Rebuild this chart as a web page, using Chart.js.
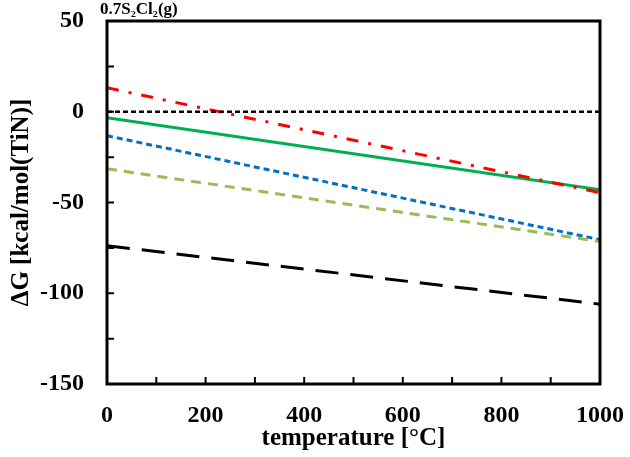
<!DOCTYPE html>
<html>
<head>
<meta charset="utf-8">
<script src="https://cdn.jsdelivr.net/npm/chart.js@4"></script>
<style>
  html, body { margin: 0; padding: 0; background: #fff; }
  #wrap { width: 630px; height: 457px; }
</style>
</head>
<body>
<div id="wrap"><canvas id="dg-chart"></canvas></div>
<script>
const temps = [0, 1000];
const redLine = [13.2, -44.6];
const greenLine = [-3.3, -43];
const blueLine = [-13.2, -70.5];
const lightGreenLine = [-31.4, -71.5];
const blackLine = [-73.8, -106];
const zeroLine = [0, 0];
const yTicks = [50, 0, -50, -100, -150];
const xTicks = [0, 200, 400, 600, 800, 1000];

const serif = "'Liberation Serif', 'Times New Roman', serif";

const pts = arr => arr.map((v, i) => ({ x: temps[i], y: v }));

//축 안쪽 눈금 + 테두리
const frame = {
  id: "frame",
  afterDraw(chart) {
    const { ctx, chartArea: a, scales } = chart;
    ctx.save();
    ctx.strokeStyle = "#000";
    ctx.lineWidth = 3;
    ctx.strokeRect(a.left, a.top, a.right - a.left, a.bottom - a.top);
    ctx.lineWidth = 2;
    ctx.beginPath();
    for (let v = 100; v < 1000; v += 100) {
      const px = scales.x.getPixelForValue(v);
      ctx.moveTo(px, a.bottom);
      ctx.lineTo(px, a.bottom - 7);
    }
    for (let v = -125; v < 50; v += 25) {
      const py = scales.y.getPixelForValue(v);
      ctx.moveTo(a.left, py);
      ctx.lineTo(a.left + 7, py);
    }
    ctx.stroke();
    ctx.fillStyle = "#000";
    ctx.font = "bold 17px " + serif;
    ctx.textBaseline = "alphabetic";
    ctx.fillText("0.7S₂Cl₂(g)", 100, 14);
    ctx.restore();
  },
};

const ctx = document.getElementById("dg-chart").getContext("2d");

const line = (data, color, dash, width) => ({
  data: pts(data),
  borderColor: color,
  borderWidth: width,
  borderDash: dash,
  pointRadius: 0,
  fill: false,
});

new Chart(ctx, {
  type: "line",
  data: {
    datasets: [
      line(zeroLine, "#000", [5, 3], 2.5),
      line(blackLine, "#000", [23, 12], 3),
      line(lightGreenLine, "#9BBB59", [10, 7], 3),
      line(blueLine, "#0070C0", [6, 4], 3),
      line(redLine, "#FF0000", [12, 10, 3, 10], 3),
      line(greenLine, "#00B050", [], 3),
    ],
  },
  options: {
    responsive: true,
    maintainAspectRatio: false,
    animation: false,
    layout: { padding: { left: 0, right: 30, top: 21, bottom: 0 } },
    plugins: { legend: { display: false }, tooltip: { enabled: false } },
    scales: {
      x: {
        type: "linear",
        min: 0,
        max: 1000,
        afterBuildTicks: s => { s.ticks = xTicks.map(v => ({ value: v })); },
        afterFit: s => { s.height = 73; s.paddingLeft = 0; s.paddingRight = 0; },
        grid: { display: false },
        border: { display: false },
        ticks: {
          color: "#000",
          padding: 9,
          callback: v => String(v),
          font: { family: serif, size: 24, weight: "bold" },
        },
        title: {
          display: true,
          text: "temperature [°C]",
          color: "#000",
          padding: { top: 0, bottom: 3 },
          font: { family: serif, size: 25, weight: "bold" },
        },
      },
      y: {
        min: -150,
        max: 50,
        afterBuildTicks: s => { s.ticks = yTicks.map(v => ({ value: v })); },
        afterFit: s => { s.width = 107; s.paddingTop = 0; s.paddingBottom = 0; },
        grid: { display: false },
        border: { display: false },
        ticks: {
          color: "#000",
          padding: 15,
          callback: v => String(v),
          font: { family: serif, size: 24, weight: "bold" },
        },
        title: {
          display: true,
          text: "ΔG [kcal/mol(TiN)]",
          color: "#000",
          padding: { top: 7, bottom: 0 },
          font: { family: serif, size: 25, weight: "bold" },
        },
      },
    },
  },
  plugins: [frame],
});
</script>
</body>
</html>
